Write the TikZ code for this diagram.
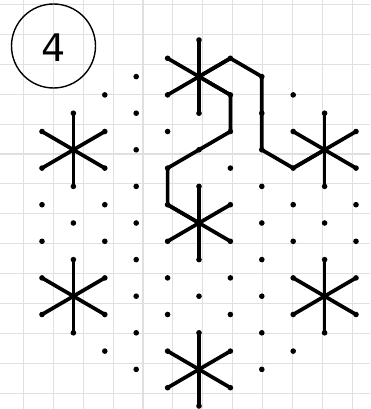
\documentclass[tikz,border=0pt]{standalone}
\usepackage{fontspec}
\newfontfamily\numfont{DejaVu Sans}
\begin{document}
\begin{tikzpicture}[x=1pt,y=-1pt,
  gridline/.style={draw=black!12, line width=1.1pt},
  dotnode/.style={circle, fill=black, inner sep=0pt, minimum size=5.6pt},
  arm/.style={line width=3.7pt, line cap=round, line join=round},
  trail/.style={line width=3.7pt, line cap=round, line join=round},
  badge/.style={draw, circle, line width=1.4pt, minimum size=84pt, inner sep=0pt}]
\useasboundingbox (0,0) rectangle (370,409);
\fill[white] (0,0) rectangle (370,409);
% grid
\foreach \k in {0,...,11} \draw[gridline] ({23.4+29.9*\k},0) -- ({23.4+29.9*\k},409);
\foreach \k in {0,...,13} \draw[gridline] (0,{4.5+29.9*\k}) -- (370,{4.5+29.9*\k});
% lattice points
\foreach \c in {0,...,10} {
  \pgfmathtruncatemacro\jmin{abs(\c-5)}
  \pgfmathtruncatemacro\jnext{\jmin+2}
  \pgfmathtruncatemacro\jmax{20-\jmin}
  \foreach \j in {\jmin,\jnext,...,\jmax} {
    \coordinate (p\c-\j) at ({42+31.4*\c},{40+18.3*\j});
    \node[dotnode] (d\c-\j) at (p\c-\j) {};
  }
}
% stars
\foreach \c/\j in {1/6,5/2,9/6,5/10,1/14,9/14,5/18} {
  \pgfmathtruncatemacro\ju{\j-2}
  \pgfmathtruncatemacro\jd{\j+2}
  \pgfmathtruncatemacro\jua{\j-1}
  \pgfmathtruncatemacro\jda{\j+1}
  \pgfmathtruncatemacro\cl{\c-1}
  \pgfmathtruncatemacro\cr{\c+1}
  \draw[arm] (p\c-\ju) -- (p\c-\jd);
  \draw[arm] (p\cl-\jua) -- (p\cr-\jda);
  \draw[arm] (p\cl-\jda) -- (p\cr-\jua);
}
% path
\draw[trail] (p5-10) -- (p4-9) -- (p4-7) -- (p5-6) -- (p6-5) -- (p6-3) -- (p5-2)
  -- (p6-1) -- (p7-2) -- (p7-4) -- (p7-6) -- (p8-7) -- (p9-6);
% badge
\node[badge] (badge) at (53.5,46) {};
\node[font=\numfont\fontsize{38}{38}\selectfont, inner sep=0pt] (num) at (54,48) {4};
\end{tikzpicture}
\end{document}
